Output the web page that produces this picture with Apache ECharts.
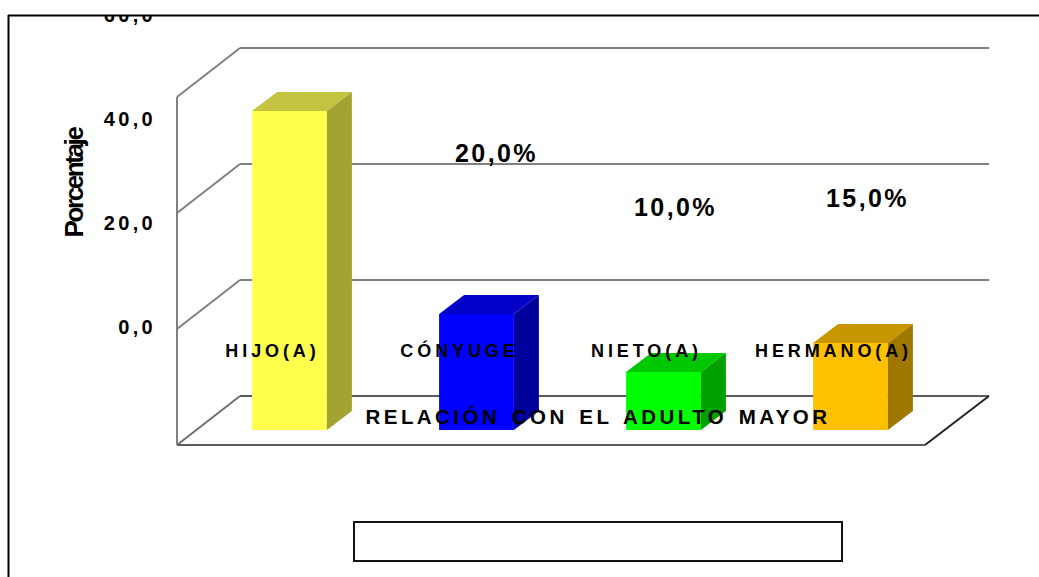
<!DOCTYPE html>
<html>
<head>
<meta charset="utf-8">
<title>Relación con el adulto mayor</title>
<style>
  html, body { margin: 0; padding: 0; background: #fff; }
  #chart { width: 1039px; height: 577px; }
  /* tracking per text role, keyed on the font size each role uses */
  #chart text[style*="18px"] { letter-spacing: 3.9px; }
  #chart text[style*="20px"] { letter-spacing: 3.3px; }
  #chart text[style*="20.5px"] { letter-spacing: 3.45px; word-spacing: 2.5px; }
  #chart text[style*="25px"] { letter-spacing: 2.4px; }
  #chart text[style*="26px"] { letter-spacing: -2.4px; }
</style>
<script src="https://cdn.jsdelivr.net/npm/echarts@6/dist/echarts.min.js"></script>
</head>
<body>
<div id="chart"></div>
<script>
const categories = ['HIJO(A)', 'CÓNYUGE', 'NIETO(A)', 'HERMANO(A)'];
const percentages = [55, 20, 10, 15];
const labelledBars = [false, true, true, true];
const wallTicks = [0, 20, 40, 60];
const frontColors = ['#FFFF4D', '#0000FF', '#00FF00', '#FFC000'];
const topColors = ['#C4C440', '#0000C8', '#00C800', '#C79600'];
const sideColors = ['#A3A333', '#00009C', '#00A000', '#A07800'];
const labelOffsets = [[0, 0], [20, -161], [12, -165], [17, -145]];

// Pseudo-3D projection offsets relative to the plane the bar fronts stand on.
const BAR_DEPTH = [25, -19];
const FLOOR_FRONT = [-19, 15];
const FLOOR_BACK = [44, -34];
const WALL_LEN = 749;
const BAR_RATIO = 0.4;
const FONT_FAMILY = 'Liberation Sans';

function polygon(points, fill) {
  return { type: 'polygon', shape: { points }, style: { fill, stroke: null } };
}
function line(x1, y1, x2, y2, stroke, lineWidth) {
  return { type: 'line', shape: { x1, y1, x2, y2 }, style: { stroke, lineWidth, fill: null } };
}

function renderWalls(params, api) {
  const cs = params.coordSys;
  const y = api.coord([0, api.value(1)])[1];
  const fx = cs.x + FLOOR_FRONT[0], fy = y + FLOOR_FRONT[1];
  const bx = cs.x + FLOOR_BACK[0], by = y + FLOOR_BACK[1];
  const children = [];
  if (api.value(1) === 0) {
    const floorFrontX = fx + WALL_LEN - 1;
    const floorBackX = bx + WALL_LEN;
    children.push(
      polygon([[fx, fy], [bx, by], [floorBackX, by], [floorFrontX, fy]], '#fff'),
      line(fx, fy, bx, by, '#707070', 2),
      line(bx, by, floorBackX, by, '#5a5a5a', 2),
      line(fx, fy, floorFrontX, fy, '#5a5a5a', 2),
      line(floorFrontX, fy, floorBackX, by, '#222', 2),
      line(fx, fy, fx, cs.y + FLOOR_FRONT[1], '#808080', 2)
    );
  } else {
    children.push(
      line(fx, fy, bx, by, '#808080', 2),
      line(bx, by, bx + WALL_LEN, by, '#808080', 2)
    );
  }
  return { type: 'group', children };
}

function renderBar(params, api) {
  const i = api.value(0);
  const base = api.coord([i, 0]);
  const top = api.coord([i, api.value(1)]);
  const w = api.size([1, 0])[0] * BAR_RATIO;
  const l = base[0] - w / 2, r = base[0] + w / 2;
  const dx = BAR_DEPTH[0], dy = BAR_DEPTH[1];
  return {
    type: 'group',
    children: [
      polygon([[l, base[1]], [r, base[1]], [r, top[1]], [l, top[1]]], frontColors[i]),
      polygon([[l, top[1]], [r, top[1]], [r + dx, top[1] + dy], [l + dx, top[1] + dy]], topColors[i]),
      polygon([[r, base[1]], [r + dx, base[1] + dy], [r + dx, top[1] + dy], [r, top[1]]], sideColors[i])
    ]
  };
}

function renderValueLabel(params, api) {
  const i = api.value(0);
  if (!labelledBars[i]) return null;
  const top = api.coord([i, api.value(1)]);
  return {
    type: 'text',
    x: top[0] + labelOffsets[i][0],
    y: top[1] + labelOffsets[i][1],
    style: {
      text: api.value(1).toFixed(1).replace('.', ',') + '%',
      font: 'bold 25px "Liberation Sans"',
      fill: '#000',
      align: 'center',
      verticalAlign: 'middle'
    }
  };
}

const barData = percentages.map((v, i) => [i, v]);

const chart = echarts.init(document.getElementById('chart'), null, { renderer: 'svg' });
chart.setOption({
  animation: false,
  backgroundColor: '#fff',
  grid: [
    { left: 196, top: 82, width: 748, height: 348 },
    { left: 179, top: 15, width: 748, height: 312 }
  ],
  xAxis: [
    { type: 'category', gridIndex: 0, data: categories, show: false },
    {
      type: 'category', gridIndex: 1, data: categories, z: 20,
      axisLine: { show: false }, axisTick: { show: false },
      axisLabel: {
        fontFamily: FONT_FAMILY, fontWeight: 'bold', fontSize: 18,
        color: '#000', margin: 15, interval: 0
      }
    }
  ],
  yAxis: [
    { type: 'value', gridIndex: 0, min: 0, max: 60, show: false },
    {
      type: 'value', gridIndex: 1, min: 0, max: 60, interval: 20, z: 20,
      axisLine: { show: false }, axisTick: { show: false }, splitLine: { show: false },
      axisLabel: {
        fontFamily: FONT_FAMILY, fontWeight: 'bold', fontSize: 20,
        color: '#000', margin: 23,
        formatter: v => v.toFixed(1).replace('.', ',')
      }
    }
  ],
  series: [
    {
      type: 'custom', name: 'Paredes', coordinateSystem: 'cartesian2d',
      xAxisIndex: 0, yAxisIndex: 0, z: 1, clip: false, silent: true,
      data: wallTicks.map(v => [0, v]).reverse(),
      renderItem: renderWalls
    },
    {
      type: 'custom', name: 'Porcentaje', coordinateSystem: 'cartesian2d',
      xAxisIndex: 0, yAxisIndex: 0, z: 2, clip: false,
      data: barData,
      renderItem: renderBar
    },
    {
      type: 'custom', name: 'Etiquetas', coordinateSystem: 'cartesian2d',
      xAxisIndex: 0, yAxisIndex: 0, z: 12, clip: false, silent: true,
      data: barData,
      renderItem: renderValueLabel
    }
  ],
  graphic: [
    {
      type: 'text', z: 30, x: 598, y: 416,
      style: {
        text: 'RELACIÓN CON EL ADULTO MAYOR',
        font: 'bold 20.5px "Liberation Sans"', fill: '#000',
        align: 'center', verticalAlign: 'middle'
      }
    },
    {
      type: 'text', z: 30, x: 74, y: 183, rotation: Math.PI / 2,
      style: {
        text: 'Porcentaje',
        font: 'bold 26px "Liberation Sans"', fill: '#000',
        align: 'center', verticalAlign: 'middle'
      }
    },
    { type: 'rect', z: 40, shape: { x: 0, y: 0, width: 1039, height: 15 }, style: { fill: '#fff' } },
    { type: 'line', z: 41, shape: { x1: 8, y1: 15.5, x2: 1039, y2: 15.5 }, style: { stroke: '#000', lineWidth: 2 } },
    { type: 'line', z: 41, shape: { x1: 8.5, y1: 15, x2: 8.5, y2: 577 }, style: { stroke: '#000', lineWidth: 2 } },
    { type: 'rect', z: 41, shape: { x: 354, y: 522, width: 488, height: 39 }, style: { fill: '#fff', stroke: '#111', lineWidth: 2 } }
  ]
});
</script>
</body>
</html>
